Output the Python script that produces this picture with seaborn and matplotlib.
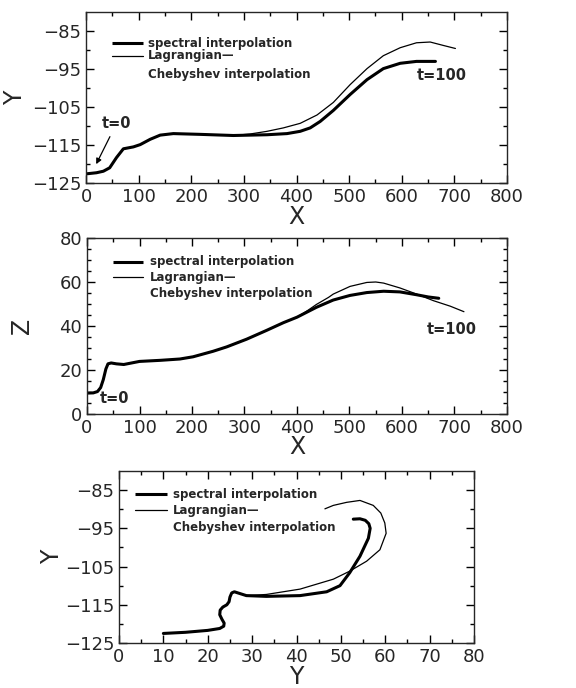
import numpy as np
import pandas as pd
import seaborn as sns
import matplotlib
matplotlib.use("Agg")
import matplotlib.pyplot as plt
from matplotlib.ticker import MultipleLocator, FixedLocator

# ---------------- data ----------------
# Panel 1: X vs Y
p1_spec_x = [0, 20, 33, 45, 58, 71, 90, 103, 122, 141, 166, 217, 280, 344, 382, 407,
             426, 445, 470, 502, 534, 565, 597, 628, 664]
p1_spec_y = [-122.6, -122.3, -121.9, -121.0, -118.3, -116.0, -115.5, -114.9, -113.5,
             -112.4, -112.0, -112.2, -112.5, -112.3, -112.0, -111.4, -110.5, -108.8,
             -105.9, -101.7, -97.8, -94.9, -93.5, -93.0, -93.0]
p1_lag_x = [0, 20, 33, 45, 58, 71, 90, 103, 122, 141, 166, 217, 280, 312, 344, 375,
            407, 439, 470, 502, 534, 565, 597, 628, 654, 679, 702]
p1_lag_y = [-122.6, -122.3, -121.9, -121.0, -118.3, -116.0, -115.5, -114.9, -113.5,
            -112.4, -112.0, -112.2, -112.5, -112.1, -111.4, -110.5, -109.3, -107.1,
            -103.8, -99.1, -94.9, -91.5, -89.4, -88.1, -87.9, -88.8, -89.6]

# Panel 2: X vs Z
p2_spec_x = [0, 12, 20, 26, 31, 36, 40, 46, 56, 70, 85, 100, 140, 177, 202, 240, 266,
             304, 342, 374, 400, 437, 469, 501, 533, 565, 596, 628, 650, 670]
p2_spec_z = [9.5, 9.6, 10.2, 12.0, 15.6, 20.5, 22.8, 23.2, 22.8, 22.5, 23.2, 23.9, 24.4,
             25.0, 26.0, 28.5, 30.5, 34.0, 38.0, 41.5, 44.0, 48.5, 51.8, 53.9, 55.2,
             55.8, 55.5, 54.2, 53.2, 52.6]
p2_lag_x = [0, 12, 20, 26, 31, 36, 40, 46, 56, 70, 85, 100, 140, 177, 202, 240, 266,
            304, 342, 374, 400, 420, 437, 460, 469, 501, 533, 550, 565, 596, 628, 660,
            692, 718]
p2_lag_z = [9.5, 9.6, 10.2, 12.0, 15.6, 20.5, 22.8, 23.2, 22.8, 22.5, 23.2, 23.9, 24.4,
            25.0, 26.0, 28.5, 30.5, 34.0, 38.0, 41.5, 44.0, 47.0, 49.8, 53.0, 54.5,
            58.0, 59.8, 60.0, 59.5, 57.3, 54.5, 51.5, 49.0, 46.5]

# Panel 3: Z (labelled "Y") vs Y
p3_spec_z = [10, 15, 20, 22.7, 23.6, 23.7, 23.2, 22.7, 22.8, 23.4, 24.3, 24.8, 25.0,
             25.4, 26.0, 26.8, 28.7, 33.2, 40.8, 46.8, 49.8, 52.0, 54.3, 56.2, 56.6,
             56.3, 55.5, 54.3, 52.8]
p3_spec_y = [-122.5, -122.2, -121.7, -121.2, -120.6, -119.8, -118.8, -117.6, -116.4,
             -115.6, -115.0, -114.2, -113.0, -111.9, -111.6, -111.9, -112.6, -112.8,
             -112.6, -111.6, -110.0, -106.6, -102.3, -97.6, -95.0, -93.8, -92.9,
             -92.5, -92.6]
p3_lag_z = [10, 15, 20, 22.7, 23.6, 23.7, 23.2, 22.7, 22.8, 23.4, 24.3, 24.8, 25.0,
            25.4, 26.0, 26.8, 28.7, 33.2, 40.8, 48.3, 52.0, 55.8, 58.8, 60.2, 59.9,
            59.0, 57.3, 54.3, 51.3, 48.3, 46.4]
p3_lag_y = [-122.5, -122.2, -121.7, -121.2, -120.6, -119.8, -118.8, -117.6, -116.4,
            -115.6, -115.0, -114.2, -113.0, -111.9, -111.6, -111.9, -112.6, -112.3,
            -110.9, -108.3, -106.2, -103.6, -100.6, -96.3, -93.6, -91.0, -89.0, -87.7,
            -88.2, -89.0, -89.9]

legend_labels = ["spectral interpolation", "Lagrangian\u2014", "Chebyshev interpolation"]

# ---------------- style ----------------
sns.set_style("ticks")
plt.rcParams["font.family"] = ["DejaVu Sans"]
plt.rcParams["axes.linewidth"] = 1.0

fig = plt.figure(figsize=(5.76, 6.88), dpi=100)
ax1 = fig.add_axes([86 / 576, 1 - 183 / 688, 421 / 576, 171 / 688])
ax2 = fig.add_axes([87 / 576, 1 - 414 / 688, 420 / 576, 176 / 688])
ax3 = fig.add_axes([119 / 576, 1 - 643 / 688, 355 / 576, 172 / 688])

THICK = 2.2
THIN = 0.9
LABEL_FS = 17


def draw(ax, xs, ys, xl, yl):
    sns.lineplot(x=xs[0], y=ys[0], sort=False, estimator=None, ax=ax,
                 color="black", linewidth=THICK)
    sns.lineplot(x=xs[1], y=ys[1], sort=False, estimator=None, ax=ax,
                 color="black", linewidth=THIN)
    ax.set_xlim(*xl)
    ax.set_ylim(*yl)
    ax.tick_params(which="both", direction="in", top=True, right=True,
                   labelsize=13, color="black")
    ax.tick_params(which="major", length=6, width=1)
    ax.tick_params(which="minor", length=3, width=1)
    for s in ax.spines.values():
        s.set_visible(True)


def labels(ax, xl, yl, xy_frac, yx_frac):
    ax.set_xlabel(xl, fontsize=LABEL_FS)
    ax.set_ylabel(yl, fontsize=LABEL_FS)
    ax.xaxis.label.set(va="center", ha="center")
    ax.yaxis.label.set(va="center", ha="center", rotation_mode="anchor")
    ax.xaxis.set_label_coords(0.5, xy_frac)
    ax.yaxis.set_label_coords(yx_frac, 0.5)


def legend(ax, x0, x1, xt, y1, y2, y3):
    ax.plot([x0, x1], [y1, y1], transform=ax.transAxes, color="black", lw=THICK,
            solid_capstyle="butt")
    ax.plot([x0, x1], [y2, y2], transform=ax.transAxes, color="black", lw=THIN)
    kw = dict(transform=ax.transAxes, fontsize=8.5, fontweight="bold", va="center",
              ha="left")
    ax.text(xt, y1, legend_labels[0], **kw)
    ax.text(xt, y2, legend_labels[1], **kw)
    ax.text(xt, y3, legend_labels[2], **kw)


# Panel 1
draw(ax1, [p1_spec_x, p1_lag_x], [p1_spec_y, p1_lag_y], (0, 800), (-125, -80))
ax1.xaxis.set_major_locator(MultipleLocator(100))
ax1.xaxis.set_minor_locator(MultipleLocator(50))
ax1.yaxis.set_major_locator(FixedLocator([-125, -115, -105, -95, -85]))
ax1.yaxis.set_minor_locator(FixedLocator([-120, -110, -100, -90]))
labels(ax1, "X", "Y", -0.2, -0.169)
legend(ax1, 0.062, 0.135, 0.147, 0.817, 0.743, 0.632)
ax1.annotate("t=0", xy=(17, -120.7), xytext=(30, -110.5), fontsize=10.5,
             fontweight="bold", arrowprops=dict(arrowstyle="-|>", color="black",
                                                lw=0.9, mutation_scale=8))
ax1.text(629, -96.8, "t=100", fontsize=10.5, fontweight="bold", va="center")

# Panel 2
draw(ax2, [p2_spec_x, p2_lag_x], [p2_spec_z, p2_lag_z], (0, 800), (0, 80))
ax2.xaxis.set_major_locator(MultipleLocator(100))
ax2.xaxis.set_minor_locator(MultipleLocator(50))
ax2.yaxis.set_major_locator(MultipleLocator(20))
ax2.yaxis.set_minor_locator(MultipleLocator(5))
labels(ax2, "X", "Z", -0.19, -0.155)
legend(ax2, 0.062, 0.134, 0.15, 0.865, 0.777, 0.682)
ax2.text(24, 7, "t=0", fontsize=10.5, fontweight="bold", va="center")
ax2.text(647, 38.6, "t=100", fontsize=10.5, fontweight="bold", va="center")

# Panel 3
draw(ax3, [p3_spec_z, p3_lag_z], [p3_spec_y, p3_lag_y], (0, 80), (-125, -80))
ax3.xaxis.set_major_locator(MultipleLocator(10))
ax3.xaxis.set_minor_locator(MultipleLocator(5))
ax3.yaxis.set_major_locator(FixedLocator([-125, -115, -105, -95, -85]))
ax3.yaxis.set_minor_locator(FixedLocator([-120, -110, -100, -90]))
labels(ax3, "Y", "Y", -0.2, -0.189)
legend(ax3, 0.045, 0.135, 0.152, 0.864, 0.773, 0.674)

fig.savefig("out.png", dpi=100)
